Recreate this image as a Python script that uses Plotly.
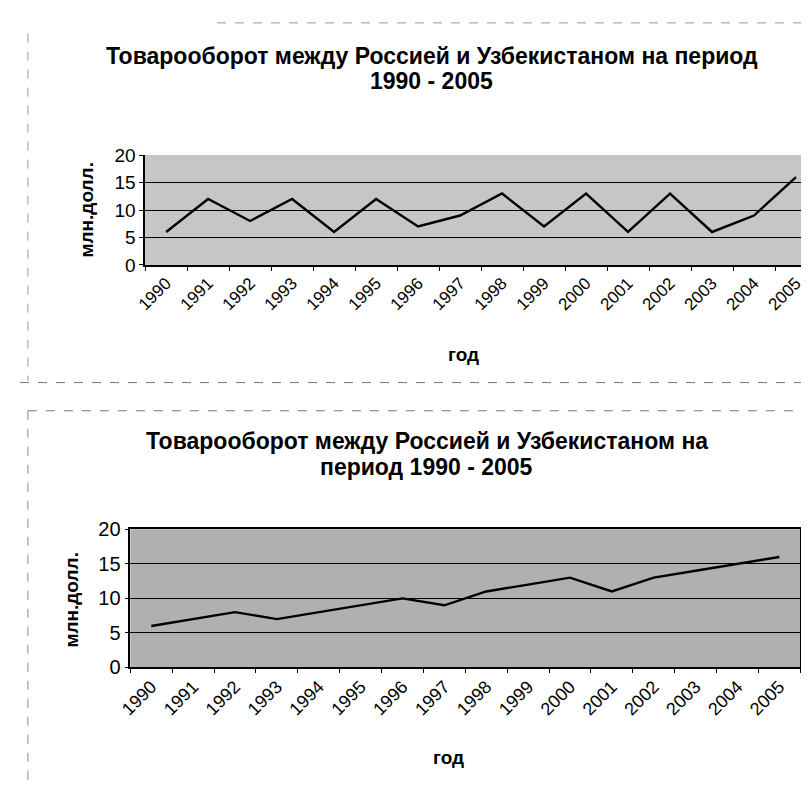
import plotly.graph_objects as go

years = [str(y) for y in range(1990, 2006)]
trade_chart1 = [6, 12, 8, 12, 6, 12, 7, 9, 13, 7, 13, 6, 13, 6, 9, 16]
trade_chart2 = [6, 7, 8, 7, 8, 9, 10, 9, 11, 12, 13, 11, 13, 14, 15, 16]
y_ticks = [0, 5, 10, 15, 20]

title_line1_a = "Товарооборот между Россией и Узбекистаном на период"
title_line2_a = "1990 - 2005"
title_line1_b = "Товарооборот между Россией и Узбекистаном на"
title_line2_b = "период 1990 - 2005"
y_title = "млн.долл."
x_title = "год"

W, H = 809, 789
FONT = "Liberation Sans, Arial, sans-serif"

def px(x):
    return x / W

def py(y):
    return 1 - y / H

fig = go.Figure()
fig.add_trace(go.Scatter(x=years, y=trade_chart1, mode="lines",
                         line=dict(color="black", width=2.4),
                         xaxis="x", yaxis="y", showlegend=False))
fig.add_trace(go.Scatter(x=years, y=trade_chart2, mode="lines",
                         line=dict(color="black", width=2.4),
                         xaxis="x2", yaxis="y2", showlegend=False))

common_x = dict(type="category", tickangle=-45, ticks="outside", ticklen=4,
                tickcolor="black", tickson="boundaries", showline=True,
                linecolor="black", linewidth=1.5, showgrid=False,
                range=[-0.5, 15.5], fixedrange=True)
common_y = dict(range=[0, 20], tickvals=y_ticks, showgrid=True,
                gridcolor="black", gridwidth=1, zeroline=False,
                showline=True, linecolor="black", linewidth=1.5,
                ticks="outside", ticklen=4, tickcolor="black", fixedrange=True)

fig.update_layout(
    width=W, height=H,
    margin=dict(l=0, r=0, t=0, b=0),
    paper_bgcolor="white",
    plot_bgcolor="white",
    font=dict(family=FONT, color="black"),
    xaxis=dict(common_x, domain=[px(127), px(809)], anchor="y",
               tickfont=dict(size=17, family=FONT)),
    yaxis=dict(common_y, domain=[py(253), py(140)], anchor="x",
               tickfont=dict(size=19, family=FONT)),
    xaxis2=dict(common_x, domain=[px(112), px(792)], anchor="y2", mirror=True,
                tickfont=dict(size=18, family=FONT)),
    yaxis2=dict(common_y, domain=[py(667), py(525)], anchor="x2", mirror=True,
                tickfont=dict(size=20, family=FONT)),
)

shapes = [
    # plot-area fills (scan-like grey)
    dict(type="rect", xref="paper", yref="paper", x0=px(127), x1=px(809),
         y0=py(253), y1=py(140), fillcolor="#c6c6c6", line_width=0, layer="below"),
    dict(type="rect", xref="paper", yref="paper", x0=px(112), x1=px(792),
         y0=py(667), y1=py(525), fillcolor="#b0b0b0", line_width=0, layer="below"),
    # chart frames
    dict(type="line", xref="paper", yref="paper", x0=px(200), x1=1, y0=py(4), y1=py(4),
         line=dict(color="#999999", width=1, dash="dash")),
    dict(type="line", xref="paper", yref="paper", x0=px(8), x1=px(8), y0=py(15), y1=py(372),
         line=dict(color="#999999", width=1, dash="dash")),
    dict(type="line", xref="paper", yref="paper", x0=0, x1=1, y0=py(374), y1=py(374),
         line=dict(color="#777777", width=1, dash="dash")),
    dict(type="line", xref="paper", yref="paper", x0=px(8), x1=1, y0=py(403), y1=py(403),
         line=dict(color="#777777", width=1, dash="dash")),
    dict(type="line", xref="paper", yref="paper", x0=px(8), x1=px(8), y0=py(403), y1=0,
         line=dict(color="#888888", width=1, dash="dash")),
]
fig.update_layout(shapes=shapes)

ann = []
def add_text(text, x, y, size, angle=0):
    ann.append(dict(text=text, xref="paper", yref="paper", x=px(x), y=py(y),
                    xanchor="center", yanchor="middle", showarrow=False,
                    textangle=angle, font=dict(size=size, family=FONT, color="black")))

add_text("<b>" + title_line1_a + "</b>", 418, 38, 23)
add_text("<b>" + title_line2_a + "</b>", 418, 64, 23)
add_text("<b>" + y_title + "</b>", 68, 196, 19, -90)
add_text("<b>" + x_title + "</b>", 450, 345, 19)

add_text("<b>" + title_line1_b + "</b>", 413, 434, 23)
add_text("<b>" + title_line2_b + "</b>", 413, 461, 23)
add_text("<b>" + y_title + "</b>", 52, 597, 19, -90)
add_text("<b>" + x_title + "</b>", 435, 760, 19)
fig.update_layout(annotations=ann)

fig.write_html("out.html")
